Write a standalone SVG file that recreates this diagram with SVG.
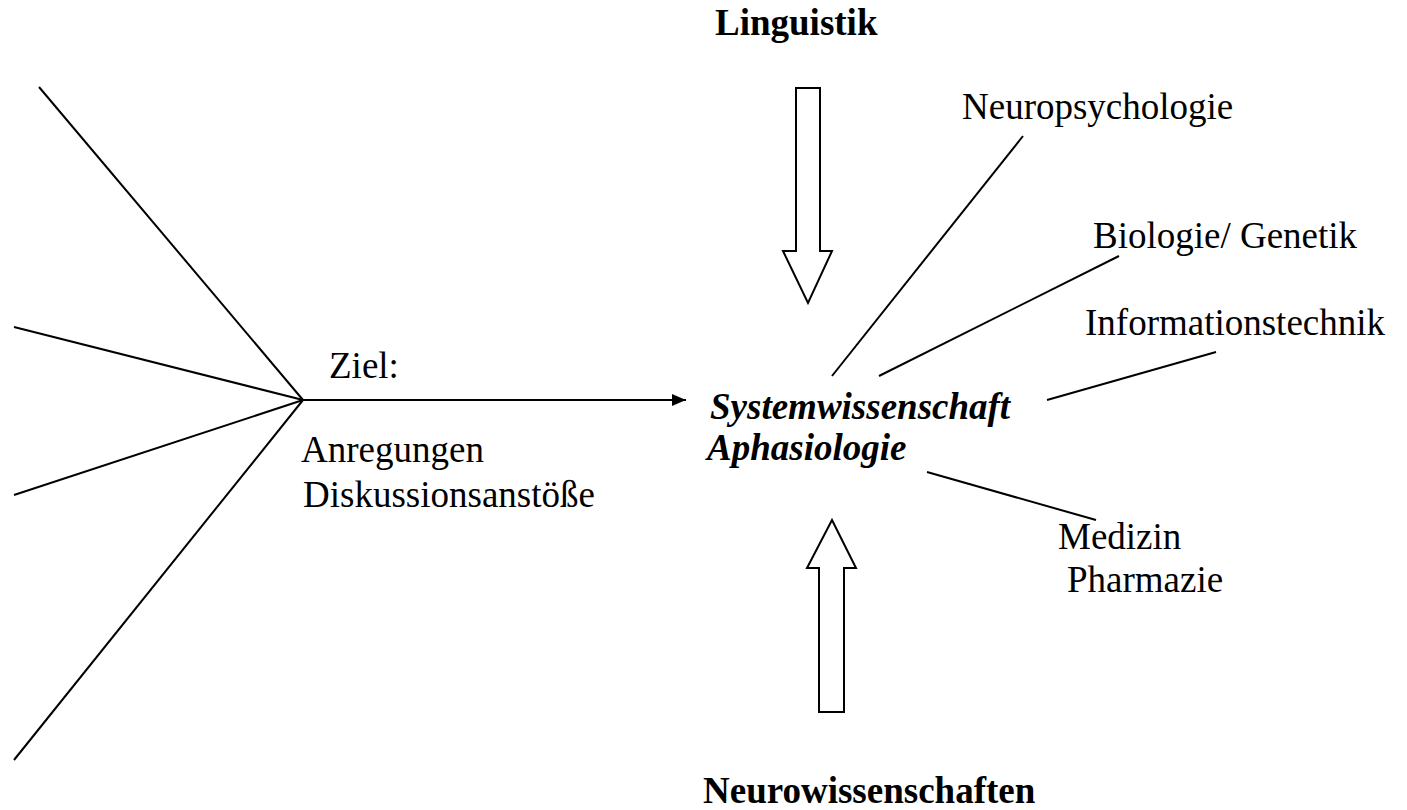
<svg xmlns="http://www.w3.org/2000/svg" width="1407" height="810" viewBox="0 0 1407 810">
<defs>
<style>
.t{font-family:"Liberation Serif","Times New Roman",serif;font-size:37px;fill:#000}
.b{font-weight:bold}
.bi{font-weight:bold;font-style:italic}
.ln{stroke:#000;stroke-width:2;fill:none}
.ar{stroke:#000;stroke-width:2;fill:#fff;stroke-linejoin:miter}
</style>
<marker id="ah" viewBox="0 0 14 12" refX="14" refY="6" markerWidth="14" markerHeight="12" markerUnits="userSpaceOnUse" orient="auto">
<path d="M0,0 L14,6 L0,12 Z" fill="#000"/>
</marker>
</defs>
<rect width="1407" height="810" fill="#fff"/>
<g id="connectors">
<line class="ln" x1="39" y1="87" x2="303" y2="400"/>
<line class="ln" x1="14" y1="327" x2="303" y2="400"/>
<line class="ln" x1="14" y1="495" x2="303" y2="400"/>
<line class="ln" x1="14" y1="760" x2="303" y2="400"/>
<line class="ln" x1="303" y1="400" x2="686" y2="400" marker-end="url(#ah)"/>
<line class="ln" x1="1023" y1="136" x2="832" y2="376"/>
<line class="ln" x1="879" y1="376" x2="1119" y2="256"/>
<line class="ln" x1="1047" y1="400" x2="1216" y2="352"/>
<line class="ln" x1="927" y1="472" x2="1096" y2="520"/>
</g>
<g id="arrow-down">
<path class="ar" d="M796,88 L820,88 L820,251 L832,251 L808,303 L783,251 L796,251 Z"/>
</g>
<g id="arrow-up">
<path class="ar" d="M832,520 L856,568 L844,568 L844,712 L819,712 L819,568 L807,568 Z"/>
</g>
<g id="linguistik"><text class="t b" x="715" y="35">Linguistik</text></g>
<g id="neurowissenschaften"><text class="t b" x="703" y="803">Neurowissenschaften</text></g>
<g id="center"><text class="t bi" x="710" y="419">Systemwissenschaft</text><text class="t bi" x="707" y="460">Aphasiologie</text></g>
<g id="ziel"><text class="t" x="329" y="378">Ziel:</text></g>
<g id="anregungen"><text class="t" x="301" y="462">Anregungen</text><text class="t" x="303" y="507">Diskussionsanstöße</text></g>
<g id="neuropsychologie"><text class="t" x="962" y="119">Neuropsychologie</text></g>
<g id="biologie"><text class="t" x="1093" y="248">Biologie/ Genetik</text></g>
<g id="informationstechnik"><text class="t" x="1085" y="335">Informationstechnik</text></g>
<g id="medizin"><text class="t" x="1058" y="549">Medizin</text><text class="t" x="1067" y="592">Pharmazie</text></g>
</svg>
